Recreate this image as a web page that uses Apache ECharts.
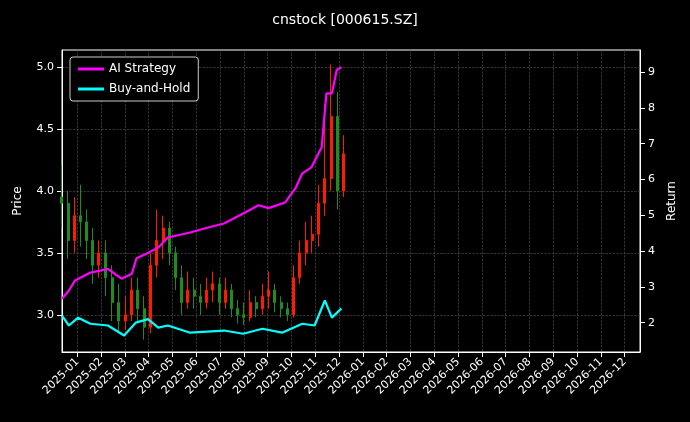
<!DOCTYPE html>
<html>
<head>
<meta charset="utf-8">
<script src="https://cdn.jsdelivr.net/npm/echarts@6/dist/echarts.min.js"></script>
<style>html,body{margin:0;background:#000}#c{width:690px;height:422px}</style>
</head>
<body>
<div id="c"></div>
<script>
// month tick labels
const monthLabels = [];
for (let y of [2025, 2026]) for (let m = 1; m <= 12; m++) monthLabels.push(y + "-" + String(m).padStart(2, "0"));

// candles every 8 days from 2024-12-12
const candleStart = "2024-12-12", candleStep = 8;
const opens  = [3.95,3.90,3.60,3.80,3.75,3.60,3.40,3.50,3.30,3.10,2.95,3.00,3.20,3.05,2.90,3.40,3.60,3.70,3.50,3.30,3.10,3.20,3.15,3.10,3.20,3.25,3.10,3.20,3.05,3.00,2.98,3.10,3.05,3.15,3.20,3.10,3.05,3.00,3.30,3.50,3.60,3.65,3.90,4.10,4.60,4.00];
const closes = [3.90,3.60,3.80,3.75,3.60,3.40,3.50,3.30,3.10,2.95,3.00,3.20,3.05,2.90,3.40,3.60,3.70,3.50,3.30,3.10,3.20,3.15,3.10,3.20,3.25,3.10,3.20,3.05,3.00,2.98,3.10,3.05,3.15,3.20,3.10,3.05,3.00,3.30,3.50,3.60,3.65,3.90,4.10,4.60,4.00,4.30];
const lows   = [3.70,3.45,3.50,3.55,3.45,3.25,3.30,3.15,2.95,2.85,2.88,2.95,2.95,2.80,2.85,3.30,3.45,3.40,3.20,3.00,3.05,3.05,3.00,3.05,3.10,3.00,3.05,2.98,2.93,2.92,2.95,2.98,3.00,3.05,3.02,2.98,2.95,2.98,3.25,3.40,3.50,3.55,3.80,4.00,3.85,3.95];
const highs  = [4.20,4.00,3.95,4.05,3.85,3.70,3.60,3.60,3.40,3.25,3.15,3.30,3.30,3.15,3.50,3.85,3.80,3.75,3.55,3.40,3.35,3.30,3.25,3.30,3.35,3.30,3.30,3.25,3.12,3.10,3.20,3.15,3.25,3.35,3.25,3.15,3.10,3.40,3.60,3.75,3.80,4.05,4.70,5.02,4.80,4.45];

// strategy returns
const aiDates = ["2024-12-12","2024-12-21","2024-12-29","2025-01-18","2025-02-09","2025-02-25","2025-03-10","2025-03-16","2025-03-31","2025-04-13","2025-04-25","2025-05-24","2025-06-11","2025-07-06","2025-07-31","2025-08-20","2025-09-02","2025-09-23","2025-10-06","2025-10-15","2025-10-27","2025-11-09","2025-11-15","2025-11-22","2025-11-28","2025-12-04"];
const aiReturn = [2.67,2.90,3.18,3.40,3.50,3.23,3.37,3.80,3.95,4.10,4.38,4.52,4.63,4.77,5.05,5.28,5.20,5.36,5.75,6.17,6.34,6.90,8.41,8.41,9.06,9.14];
const bhDates = ["2024-12-12","2024-12-21","2025-01-02","2025-01-18","2025-02-09","2025-02-28","2025-03-15","2025-03-31","2025-04-13","2025-04-25","2025-05-24","2025-07-06","2025-07-31","2025-08-25","2025-09-19","2025-10-15","2025-10-31","2025-11-13","2025-11-22","2025-12-04"];
const bhReturn = [2.20,1.92,2.14,1.97,1.92,1.64,2.00,2.10,1.86,1.92,1.72,1.78,1.69,1.83,1.72,1.97,1.92,2.62,2.14,2.40];

// date -> fractional month index, 0 = 2025-01
function mx(s) {
    const d = new Date(s + "T00:00:00Z");
    const y = d.getUTCFullYear(), m = d.getUTCMonth();
    const dim = new Date(Date.UTC(y, m + 1, 0)).getUTCDate();
    return (y - 2025) * 12 + m + (d.getUTCDate() - 1) / dim;
}
function candleDate(i) {
    const d = new Date(candleStart + "T00:00:00Z");
    d.setUTCDate(d.getUTCDate() + i * candleStep);
    return d.toISOString().slice(0, 10);
}

const chart = echarts.init(document.getElementById("c"));
const grid = "#555";
const ticksX = monthLabels.map((_, i) => i);
chart.setOption({
    backgroundColor: "#000",
    animation: false,
    textStyle: { fontFamily: "DejaVu Sans", color: "#fff" },
    title: { text: "cnstock [000615.SZ]", left: "center", top: 8, textStyle: { color: "#fff", fontSize: 14, fontWeight: "normal", fontFamily: "DejaVu Sans" } },
    legend: {
        left: 70, top: 57, orient: "vertical", itemWidth: 26, itemHeight: 3, itemGap: 8,
        backgroundColor: "#000", borderColor: "#ccc", borderWidth: 1, borderRadius: 3, padding: [6, 8],
        textStyle: { color: "#fff", fontSize: 12 },
        data: [{ name: "AI Strategy", icon: "rect" }, { name: "Buy-and-Hold", icon: "rect" }],
    },
    grid: { left: 62, right: 50, top: 50, bottom: 70, show: true, borderColor: "#fff", borderWidth: 1, backgroundColor: "#000" },
    xAxis: {
        type: "value", min: mx("2024-12-12"), max: mx("2026-12-21"), interval: 1,
        axisLine: { show: true, onZero: false, lineStyle: { color: "#fff" } },
        axisTick: { show: true, lineStyle: { color: "#fff" }, customValues: ticksX },
        axisLabel: { color: "#fff", fontSize: 11, rotate: 45, customValues: ticksX, formatter: v => monthLabels[Math.round(v)] || "" },
        splitLine: { show: true, lineStyle: { color: grid, type: "dashed", width: 0.6 } },
    },
    yAxis: [
        {
            type: "value", min: 2.7, max: 5.137, name: "Price", nameLocation: "middle", nameGap: 38,
            nameTextStyle: { color: "#fff", fontSize: 12 },
            axisLine: { show: true, onZero: false, lineStyle: { color: "#fff" } },
            axisTick: { show: true, customValues: [3, 3.5, 4, 4.5, 5] },
            axisLabel: { color: "#fff", fontSize: 11, customValues: [3, 3.5, 4, 4.5, 5], formatter: v => v.toFixed(1) },
            splitLine: { show: true, lineStyle: { color: grid, type: "dashed", width: 0.6 } },
        },
        {
            type: "value", min: 1.18, max: 9.62, name: "Return", nameLocation: "middle", nameGap: 24,
            nameTextStyle: { color: "#fff", fontSize: 12 },
            axisLine: { show: true, onZero: false, lineStyle: { color: "#fff" } },
            axisTick: { show: true, customValues: [2, 3, 4, 5, 6, 7, 8, 9] },
            axisLabel: { color: "#fff", fontSize: 11, customValues: [2, 3, 4, 5, 6, 7, 8, 9] },
            splitLine: { show: false },
        },
    ],
    series: [
        {
            name: "Price", type: "candlestick", yAxisIndex: 0, barWidth: 2.5,
            itemStyle: { color: "#ff1a00", color0: "#1f8c1f", borderColor: "#ff1a00", borderColor0: "#1f8c1f" },
            data: opens.map((o, i) => [mx(candleDate(i)), o, closes[i], lows[i], highs[i]]),
        },
        {
            name: "AI Strategy", type: "line", yAxisIndex: 1, showSymbol: false,
            lineStyle: { color: "#ff00ff", width: 2.2 }, itemStyle: { color: "#ff00ff" },
            data: aiDates.map((d, i) => [mx(d), aiReturn[i]]),
        },
        {
            name: "Buy-and-Hold", type: "line", yAxisIndex: 1, showSymbol: false,
            lineStyle: { color: "#00ffff", width: 2.2 }, itemStyle: { color: "#00ffff" },
            data: bhDates.map((d, i) => [mx(d), bhReturn[i]]),
        },
    ],
});
</script>
</body>
</html>
